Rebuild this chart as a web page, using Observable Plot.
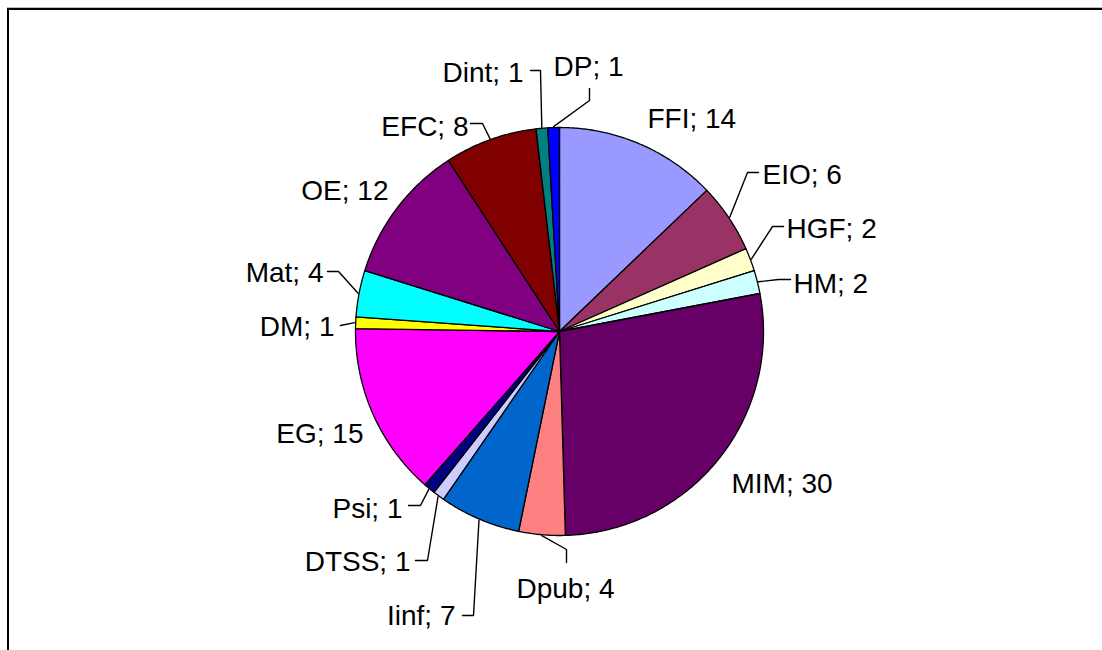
<!DOCTYPE html>
<html>
<head>
<meta charset="utf-8">
<script src="https://cdn.jsdelivr.net/npm/d3@7"></script>
<script src="https://cdn.jsdelivr.net/npm/@observablehq/plot@0.6"></script>
<style>
  body { margin: 0; background: #fff; }
  #wrap { position: relative; width: 1102px; height: 650px; overflow: hidden; background: #fff; }
  #frame { position: absolute; left: 7px; top: 8px; width: 1300px; height: 900px;
           border-top: 2px solid #000; border-left: 2px solid #000; box-shadow: 0 -1px 0 #bbb; }
  #chart { position: absolute; left: 0; top: 0; }
</style>
</head>
<body>
<div id="wrap"><div id="frame"></div><div id="chart"></div></div>
<script>
// ---- data ----
const categories = ["FFI", "EIO", "HGF", "HM", "MIM", "Dpub", "Iinf", "DTSS", "Psi", "EG", "DM", "Mat", "OE", "EFC", "Dint", "DP"];
const values     = [14, 6, 2, 2, 30, 4, 7, 1, 1, 15, 1, 4, 12, 8, 1, 1];
const colors     = ["#9999FF", "#993366", "#FFFFCC", "#CCFFFF", "#660066", "#FF8080", "#0066CC", "#CCCCFF",
                    "#000080", "#FF00FF", "#FFFF00", "#00FFFF", "#800080", "#800000", "#008080", "#0000FF"];

// ---- layout (label placement, pixel space) ----
const pieCenter = [559, 331];
const pieRadius = 204;
// per category: label anchor x, baseline y, text anchor, leader elbow points (from pie edge outward)
const labelX      = [647, 762, 786, 793, 731, 565, 455, 410, 402, 363, 334, 323, 388, 468, 523, 588];
const labelY      = [127, 183, 237, 292, 492, 597, 624, 570, 517, 442, 335, 281, 199, 135, 81, 75];
const labelAnchor = ["start", "start", "start", "start", "start", "middle", "end", "end", "end", "end", "end", "end", "end", "end", "end", "middle"];
const leaderElbows = [
  null,
  [[747, 172], [758, 172]],
  [[772, 226], [783, 226]],
  [[778, 279], [790, 279]],
  null,
  [[566, 549], [566, 562]],
  [[473, 615], [462, 615]],
  [[427, 560], [415, 560]],
  [[420, 505], [408, 505]],
  null,
  [[340, 325]],
  [[338, 271], [327, 271]],
  null,
  [[482, 123], [470, 123]],
  [[540, 70], [530, 70]],
  [[589, 100], [589, 88]]
];

// ---- geometry from data ----
const [cx, cy] = pieCenter;
const arcs = d3.pie().sort(null).value(d => d.value)(categories.map((c, i) => ({cat: c, value: values[i]})));

const slicePts = [];
arcs.forEach(p => {
  const k = p.data.cat;
  slicePts.push({k, x: cx, y: cy});
  const n = Math.max(2, Math.ceil((p.endAngle - p.startAngle) / (Math.PI / 360)));
  for (let j = 0; j <= n; j++) {
    const a = p.startAngle + (p.endAngle - p.startAngle) * j / n;
    slicePts.push({k, x: cx + pieRadius * Math.sin(a), y: cy - pieRadius * Math.cos(a)});
  }
});

const leaderPts = [];
const labels = [];
arcs.forEach((p, i) => {
  const k = p.data.cat;
  labels.push({k, x: labelX[i], y: labelY[i], anchor: labelAnchor[i], t: `${k}; ${p.data.value}`});
  if (leaderElbows[i]) {
    const a = (p.startAngle + p.endAngle) / 2;
    leaderPts.push({k, x: cx + (pieRadius + 1) * Math.sin(a), y: cy - (pieRadius + 1) * Math.cos(a)});
    leaderElbows[i].forEach(([x, y]) => leaderPts.push({k, x, y}));
  }
});

const textMark = anchor => Plot.text(labels.filter(d => d.anchor === anchor), {
  x: "x", y: "y", text: "t", textAnchor: anchor, lineAnchor: "bottom",
  fontSize: 28, fill: "#000"
});

const chart = Plot.plot({
  width: 1102, height: 650, margin: 0,
  x: {domain: [0, 1102], range: [0, 1102], axis: null},
  y: {domain: [0, 650], range: [0, 650], axis: null},
  color: {domain: categories, range: colors},
  style: {fontFamily: "'Liberation Sans', Arial, sans-serif", background: "transparent"},
  marks: [
    Plot.line(slicePts, {x: "x", y: "y", z: "k", fill: "k", stroke: "#000", strokeWidth: 1.3, curve: "linear-closed"}),
    Plot.line(leaderPts, {x: "x", y: "y", z: "k", stroke: "#000", strokeWidth: 1.4, strokeLinejoin: "miter"}),
    textMark("start"), textMark("middle"), textMark("end")
  ]
});
document.getElementById("chart").appendChild(chart);
</script>
</body>
</html>
